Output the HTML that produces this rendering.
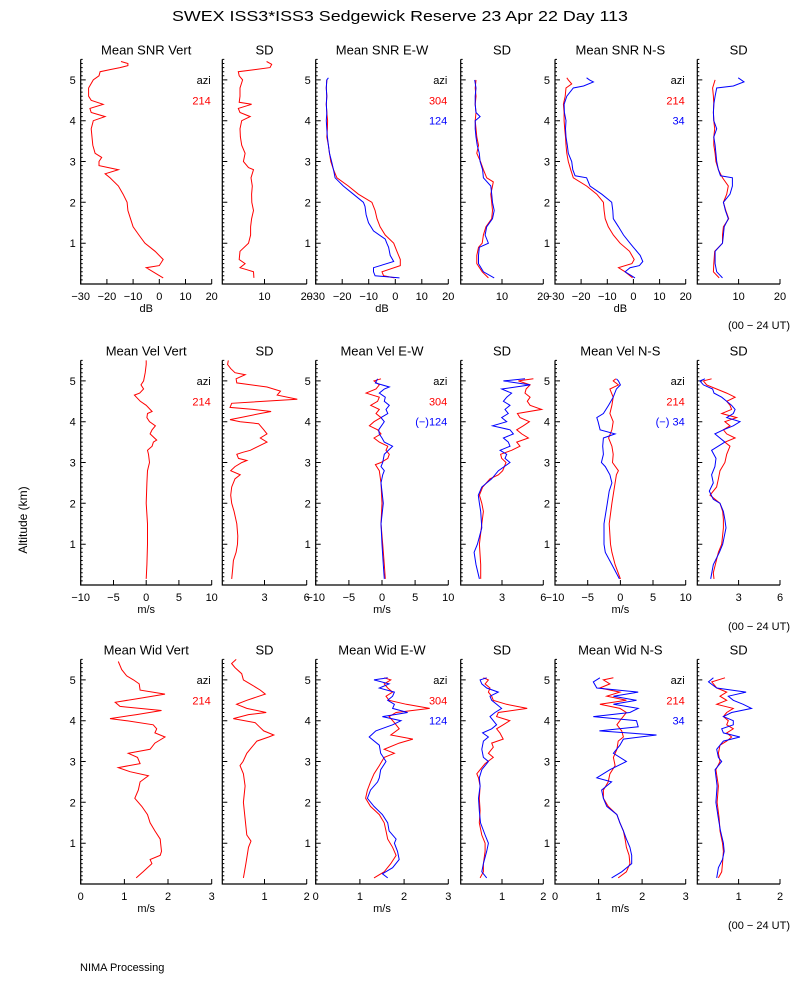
<!DOCTYPE html>
<html><head><meta charset="utf-8">
<style>
html,body{margin:0;padding:0;background:#fff;}
svg{display:block;font-family:"Liberation Sans",sans-serif;}
</style></head>
<body>
<svg id="chart" width="800" height="1000" viewBox="0 0 800 1000" xmlns="http://www.w3.org/2000/svg">
<rect x="0" y="0" width="800" height="1000" fill="#fff"/>
<text x="172" y="21" font-size="15" textLength="456" lengthAdjust="spacingAndGlyphs">SWEX ISS3*ISS3 Sedgewick Reserve  23 Apr 22 Day 113</text>
<text x="0" y="0" font-size="12" text-anchor="middle" transform="translate(27,520) rotate(-90)">Altitude (km)</text>
<text x="80" y="971" font-size="11">NIMA Processing</text>
<g id="plots"></g>
</svg>
<script>
// ---------- Row 1: SNR (dB) ----------
const snrVertAlt=[0.15,0.4,0.45,0.6,0.8,1.0,1.2,1.4,1.6,1.8,2.0,2.2,2.4,2.6,2.7,2.8,2.9,3.0,3.1,3.2,3.4,3.6,3.8,4.0,4.1,4.2,4.3,4.4,4.5,4.6,4.8,5.0,5.1,5.2,5.25,5.3,5.35,5.4,5.45];
const snrVertVal=[1.5,-5,0,1.5,-1.6,-5.5,-7.8,-10,-11,-12,-12.3,-13.8,-15.6,-18.8,-20.7,-15.6,-23,-23,-22,-24.5,-25.4,-25.7,-26,-25.2,-20.7,-26,-26.5,-21.4,-26,-27,-27,-25.2,-23,-22.6,-18.8,-15,-12,-12,-14.6];
const snrVertSdAlt=[0.15,0.3,0.35,0.4,0.5,0.6,0.8,1.0,1.2,1.4,1.6,1.8,2.0,2.2,2.4,2.6,2.8,2.85,3.0,3.2,3.4,3.6,3.8,4.0,4.1,4.2,4.3,4.4,4.45,4.6,4.8,5.0,5.1,5.2,5.25,5.3,5.38,5.45];
const snrVertSdVal=[7.5,7.4,5.8,4.2,5.4,4.0,4.2,6.2,6.7,6.7,6.95,7.4,7.0,6.95,7.1,6.8,7.4,6.2,5.0,5.4,4.6,4.3,4.2,4.6,6.6,4.2,3.8,6.95,4.0,4.2,4.2,4.8,4.0,3.8,7.7,11.3,11.7,10.5];
const snrEwRedAlt=[0.15,0.2,0.3,0.45,0.6,0.8,1.0,1.2,1.4,1.6,1.8,2.0,2.2,2.4,2.6,2.8,3.0,3.2,3.4,3.6,3.8,4.0,4.2,4.4,4.6,4.8,5.0];
const snrEwRedVal=[-0.3,-4.4,-5,1.9,1.9,0.6,-0.6,-3.8,-5.7,-6.9,-7.6,-8.8,-13.9,-17.7,-22,-23.3,-24.3,-24.8,-25.2,-25.8,-25.6,-25.5,-25.8,-26,-25.8,-26,-25.8];
const snrEwBlueAlt=[0.15,0.2,0.3,0.4,0.55,0.7,0.9,1.0,1.1,1.3,1.5,1.7,1.9,2.0,2.2,2.4,2.6,2.8,3.0,3.2,3.4,3.6,3.8,4.0,4.2,4.4,4.6,4.8,5.0,5.05];
const snrEwBlueVal=[1.6,-7.6,-8.2,-8.2,-0.6,-1.9,-2.5,-3.2,-3.8,-8.2,-10.1,-11,-11.4,-12,-15.8,-19.6,-22.7,-23.3,-24,-24.8,-25.2,-25.6,-25.8,-26,-25.8,-26,-25.8,-26,-25.8,-25.2];
const snrEwSdRedAlt=[0.15,0.3,0.5,0.7,0.9,1.0,1.2,1.4,1.6,1.8,2.0,2.2,2.4,2.5,2.6,2.8,3.0,3.2,3.4,3.6,3.8,4.0,4.2,4.4,4.6,4.8,5.0];
const snrEwSdRedVal=[6.7,5.2,3.9,3.9,4.3,5.2,5.5,6.1,7.5,7.7,7.5,7.3,7.7,7.9,6.3,5.5,4.8,3.9,4.3,3.9,3.7,3.5,3.7,3.5,3.7,3.5,3.7];
const snrEwSdBlueAlt=[0.15,0.3,0.5,0.7,0.9,1.0,1.2,1.4,1.6,1.8,2.0,2.2,2.4,2.6,2.8,3.0,3.2,3.4,3.6,3.8,4.0,4.1,4.2,4.4,4.6,4.8,5.0];
const snrEwSdBlueVal=[8.1,5.5,4.3,4.3,4.5,6.7,5.9,6.3,7.7,8.1,7.7,7.5,7.3,5.5,5.3,4.7,4.5,4.0,3.7,3.5,3.5,4.7,3.7,3.5,3.5,3.7,3.4];
const snrNsRedAlt=[0.15,0.3,0.4,0.5,0.6,0.8,1.0,1.2,1.4,1.6,1.8,2.0,2.2,2.4,2.6,2.8,3.0,3.2,3.4,3.6,3.8,4.0,4.2,4.4,4.6,4.8,4.9,5.0,5.05];
const snrNsRedVal=[-0.3,-3.2,-5.7,-0.6,0.3,-1.5,-5.1,-7.7,-9.6,-10.8,-11.2,-11.5,-14,-17.9,-23,-24,-24.9,-25.5,-25.8,-26,-26.3,-26.5,-26.5,-26.8,-26.1,-25.8,-23.6,-24.9,-25.5];
const snrNsBlueAlt=[0.15,0.3,0.4,0.45,0.55,0.7,0.9,1.0,1.2,1.4,1.6,1.8,2.0,2.2,2.4,2.6,2.65,2.8,3.0,3.2,3.4,3.6,3.8,4.0,4.2,4.4,4.6,4.8,4.85,4.95,5.0,5.05];
const snrNsBlueVal=[0.6,-3.2,-1.3,2.3,3.6,2.6,0,-1.3,-3.8,-5.7,-7.7,-7.9,-8.3,-12.1,-16.6,-17.9,-22.3,-23.2,-23.6,-24.9,-25.3,-25.8,-26,-25.8,-26.4,-26.5,-25.5,-23,-19.1,-15.3,-16.8,-17.9];
const snrNsSdRedAlt=[0.15,0.3,0.5,0.8,1.0,1.2,1.4,1.6,1.8,2.0,2.2,2.4,2.6,2.8,3.0,3.2,3.4,3.6,3.8,4.0,4.2,4.4,4.6,4.8,5.0];
const snrNsSdRedVal=[5.3,3.9,4.0,4.2,6.1,6.1,6.3,7.6,6.9,6.3,7.1,7.5,6.1,5.1,4.5,4.3,4.0,4.0,4.2,4.0,3.9,4.0,3.9,3.7,4.3];
const snrNsSdBlueAlt=[0.15,0.3,0.5,0.8,1.0,1.2,1.4,1.6,1.8,2.0,2.2,2.4,2.6,2.65,2.8,3.0,3.2,3.4,3.6,3.8,4.0,4.2,4.4,4.6,4.8,4.85,4.95,5.05];
const snrNsSdBlueVal=[6.1,4.7,4.3,4.3,6.1,6.3,6.5,7.5,6.8,6.3,7.9,8.5,8.5,5.6,5.1,4.7,4.5,4.3,4.0,4.7,4.0,3.9,4.0,4.3,4.7,8.7,11.3,9.9];
// ---------- Row 2: Velocity (m/s) ----------
const velVertAlt=[0.15,0.5,1.0,1.5,2.0,2.5,2.8,3.0,3.2,3.3,3.4,3.5,3.55,3.7,3.8,3.9,4.0,4.1,4.2,4.25,4.4,4.5,4.6,4.65,4.7,4.8,4.9,5.0,5.2,5.4,5.5];
const velVertVal=[0,0.1,0.2,0.2,0,0.1,0.2,0.5,0.35,0.2,0.9,1.1,1.6,0.6,0.9,1.4,0.5,0.1,0.2,0.9,0,-0.9,-1.5,-1.8,-1.0,-0.4,-0.8,-0.4,-0.15,0,0];
const velVertSdAlt=[0.15,0.4,0.6,0.8,1.0,1.2,1.5,1.8,2.0,2.2,2.4,2.6,2.7,2.8,2.9,3.0,3.05,3.1,3.2,3.25,3.3,3.4,3.5,3.6,3.7,3.8,3.95,4.0,4.05,4.1,4.2,4.25,4.3,4.35,4.45,4.55,4.65,4.75,4.85,4.95,5.05,5.15,5.2,5.3,5.4,5.5];
const velVertSdVal=[0.67,0.74,0.79,0.98,1.08,1.1,1.03,0.84,0.67,0.6,0.67,0.9,1.27,0.6,0.9,1.39,1.75,1.15,1.03,1.46,1.99,2.58,3.18,2.7,3.18,2.95,2.58,1.27,0.55,1.27,2.7,3.47,2.2,0.55,0.67,5.33,3.9,4.14,3.18,1.03,0.98,1.63,0.9,0.6,0.38,0.43];
const velEwRedAlt=[0.15,0.5,1.0,1.5,2.0,2.5,2.8,2.95,3.0,3.1,3.2,3.3,3.4,3.5,3.6,3.7,3.8,3.9,4.0,4.1,4.2,4.3,4.4,4.5,4.6,4.7,4.8,4.9,5.0,5.05];
const velEwRedVal=[0.5,0.35,0.1,-0.15,0,-0.15,-0.4,-1.0,-0.15,0.87,1.1,0.6,0.87,-0.4,-1.2,-0.15,-0.66,-1.9,-1.2,-0.15,-0.9,-0.4,-1.7,-0.66,-0.4,-2.4,-0.9,-0.4,-1.2,-0.15];
const velEwBlueAlt=[0.15,0.5,1.0,1.5,2.0,2.5,2.7,2.8,2.9,3.0,3.2,3.4,3.5,3.6,3.7,3.8,4.0,4.1,4.2,4.3,4.4,4.5,4.6,4.7,4.8,4.85,4.95,5.05];
const velEwBlueVal=[0.35,0.2,0,-0.15,0.2,-0.15,0.1,0.35,-0.15,0.1,0.35,1.6,0.35,0,-0.4,-0.5,0.35,-0.15,0.87,0.6,1.1,0.35,0.5,-0.4,0.35,1.1,-1.0,-0.66];
const velEwSdRedAlt=[0.15,0.5,1.0,1.5,1.8,2.0,2.2,2.4,2.6,2.7,2.8,3.0,3.1,3.2,3.3,3.4,3.5,3.6,3.7,3.8,3.9,4.0,4.1,4.2,4.3,4.4,4.5,4.6,4.7,4.8,4.9,5.0,5.05];
const velEwSdRedVal=[1.45,1.45,1.36,1.53,1.65,1.53,1.36,1.6,2.13,2.74,3.05,3.29,2.98,2.9,3.7,4.31,4.07,4.92,4.43,4.07,4.55,4.99,4.31,4.12,5.88,5.04,4.84,5.04,4.67,4.75,5.04,4.19,5.28];
const velEwSdBlueAlt=[0.15,0.5,0.8,1.0,1.4,1.8,2.0,2.2,2.4,2.6,2.8,3.0,3.1,3.2,3.3,3.4,3.5,3.6,3.7,3.8,3.9,4.0,4.1,4.2,4.3,4.4,4.5,4.6,4.7,4.8,4.9,5.0,5.05];
const velEwSdBlueVal=[1.36,1.11,0.97,1.21,1.53,1.45,1.36,1.28,1.53,2.25,2.74,3.58,3.22,3.34,2.86,3.58,3.46,3.1,3.83,3.58,2.32,3.34,2.98,3.46,3.22,3.58,3.1,3.34,3.7,2.98,5.04,3.1,4.67];
const velNsRedAlt=[0.15,0.5,0.8,1.0,1.5,2.0,2.5,2.7,2.8,3.0,3.2,3.4,3.6,3.8,4.0,4.2,4.4,4.6,4.8,4.9,5.0,5.05];
const velNsRedVal=[0,-0.8,-1.3,-1.5,-1.7,-1.3,-0.8,-0.6,-0.3,-1.2,-1.1,-1.3,-1.8,-1.3,-1.1,-1.6,-1.3,-1.1,-1.6,-0.3,-1.1,-0.7];
const velNsBlueAlt=[0.15,0.5,0.8,1.0,1.5,2.0,2.3,2.5,2.7,2.9,3.0,3.2,3.4,3.6,3.7,3.8,4.0,4.1,4.2,4.4,4.6,4.8,4.9,5.0,5.05];
const velNsBlueVal=[-0.15,-1.3,-2.3,-2.5,-2.5,-2.0,-1.7,-1.3,-1.6,-2.3,-2.9,-2.6,-2.7,-2.6,-0.8,-3.1,-3.4,-3.6,-2.6,-1.8,-1.1,-0.6,0,-0.3,-0.6];
const velNsSdRedAlt=[0.15,0.3,0.8,1.0,1.4,1.6,1.8,2.0,2.2,2.4,2.6,2.8,3.0,3.2,3.4,3.5,3.6,3.7,3.8,3.9,4.0,4.1,4.2,4.3,4.4,4.5,4.6,4.7,4.8,4.9,5.0,5.05];
const velNsSdRedVal=[1.21,1.16,1.53,1.77,1.89,1.89,1.84,1.65,0.92,1.4,1.53,1.65,2.0,2.13,2.37,2.0,2.74,2.13,1.89,2.37,2.0,2.86,1.77,2.49,2.37,2.13,2.74,2.13,1.4,0.68,0.44,1.04];
const velNsSdBlueAlt=[0.15,0.5,0.8,1.0,1.4,1.6,1.8,2.0,2.1,2.3,2.5,2.7,2.9,3.1,3.3,3.5,3.7,3.8,3.9,4.0,4.1,4.2,4.3,4.4,4.6,4.7,4.8,4.9,5.0,5.05];
const velNsSdBlueVal=[0.97,1.16,1.6,1.84,2.08,2.0,1.89,1.65,1.16,0.87,1.16,1.04,1.28,1.36,1.04,2.0,1.28,1.89,2.61,3.1,2.13,2.61,2.74,2.49,1.77,1.21,1.11,0.44,0.19,0.56];
// ---------- Row 3: Spectral width (m/s) ----------
const widVertAlt=[0.15,0.3,0.5,0.6,0.7,0.8,1.0,1.1,1.3,1.5,1.7,1.9,2.1,2.3,2.5,2.65,2.75,2.85,2.95,3.1,3.2,3.3,3.45,3.6,3.7,3.8,3.9,4.0,4.05,4.15,4.25,4.35,4.45,4.55,4.65,4.75,4.9,5.0,5.1,5.25,5.35,5.45];
const widVertVal=[1.27,1.43,1.63,1.59,1.82,1.85,1.83,1.82,1.7,1.59,1.53,1.4,1.24,1.32,1.36,1.55,1.13,0.86,1.36,1.3,1.09,1.59,1.7,1.93,1.7,1.74,1.66,1.05,0.67,1.28,1.85,0.9,0.79,1.36,1.93,1.36,1.34,1.21,1.05,0.94,0.9,0.86];
const widVertSdAlt=[0.15,0.5,0.9,1.05,1.2,1.6,2.0,2.4,2.7,2.9,3.0,3.2,3.35,3.5,3.6,3.65,3.75,3.85,3.95,4.05,4.15,4.2,4.3,4.4,4.5,4.65,4.75,4.9,5.0,5.15,5.3,5.4,5.5];
const widVertSdVal=[0.5,0.56,0.62,0.68,0.58,0.54,0.5,0.54,0.5,0.42,0.49,0.58,0.7,0.82,1.1,1.22,0.98,0.88,0.78,0.26,0.62,1.04,0.58,0.34,0.58,1.02,0.9,0.66,0.5,0.46,0.3,0.22,0.33];
const widEwRedAlt=[0.15,0.3,0.5,0.7,0.9,1.1,1.3,1.5,1.7,1.9,2.1,2.3,2.5,2.7,2.9,3.1,3.2,3.3,3.45,3.55,3.65,3.8,3.95,4.1,4.2,4.3,4.4,4.5,4.6,4.7,4.8,4.9,5.0,5.05];
const widEwRedVal=[1.32,1.55,1.7,1.82,1.74,1.63,1.59,1.55,1.44,1.24,1.13,1.17,1.24,1.32,1.44,1.55,1.78,1.55,1.89,2.2,1.7,1.89,1.78,1.66,1.82,2.58,2.05,1.66,1.59,1.74,1.63,1.55,1.7,1.55];
const widEwBlueAlt=[0.15,0.25,0.4,0.6,0.8,1.0,1.1,1.3,1.5,1.7,1.9,2.1,2.3,2.5,2.6,2.8,3.0,3.2,3.4,3.6,3.75,3.9,4.0,4.1,4.2,4.3,4.4,4.5,4.6,4.7,4.8,4.9,5.0,5.05];
const widEwBlueVal=[1.63,1.51,1.74,1.89,1.85,1.78,1.82,1.66,1.63,1.51,1.32,1.17,1.24,1.4,1.44,1.47,1.59,1.47,1.44,1.21,1.36,1.74,1.93,1.51,2.08,1.74,1.78,1.63,1.74,1.78,1.44,1.66,1.32,1.63];
const widEwSdRedAlt=[0.15,0.3,0.5,0.8,1.0,1.2,1.5,1.8,2.1,2.4,2.6,2.7,2.8,2.95,3.1,3.2,3.35,3.45,3.55,3.7,3.8,3.9,4.0,4.1,4.2,4.3,4.4,4.5,4.6,4.7,4.8,4.9,5.0,5.05];
const widEwSdRedVal=[0.47,0.55,0.55,0.59,0.59,0.51,0.45,0.47,0.45,0.47,0.43,0.39,0.47,0.59,0.79,0.67,0.79,0.75,1.03,0.95,0.87,1.03,1.19,0.87,0.91,1.61,1.11,0.79,0.75,0.67,0.71,0.59,0.67,0.55];
const widEwSdBlueAlt=[0.15,0.3,0.5,0.8,1.0,1.2,1.5,1.8,2.1,2.4,2.6,2.8,3.0,3.1,3.3,3.5,3.6,3.7,3.8,3.9,4.0,4.1,4.2,4.3,4.4,4.5,4.6,4.7,4.8,4.9,5.0,5.05];
const widEwSdBlueVal=[0.63,0.51,0.55,0.63,0.67,0.59,0.48,0.45,0.43,0.47,0.45,0.51,0.67,0.55,0.51,0.55,0.67,0.53,0.75,0.87,0.79,0.71,0.83,0.99,0.87,0.75,0.71,0.91,0.63,0.51,0.47,0.63];
const widNsRedAlt=[0.15,0.3,0.5,0.7,0.9,1.1,1.3,1.5,1.7,1.9,2.1,2.3,2.5,2.7,2.9,3.1,3.3,3.5,3.6,3.75,3.9,4.0,4.2,4.3,4.4,4.5,4.6,4.7,4.8,4.9,5.0,5.05];
const widNsRedVal=[1.45,1.64,1.72,1.7,1.64,1.61,1.57,1.49,1.42,1.22,1.11,1.11,1.22,1.26,1.38,1.34,1.42,1.45,1.57,1.53,1.42,1.49,1.64,1.49,1.03,1.64,1.19,1.49,1.03,1.26,1.11,1.34];
const widNsBlueAlt=[0.15,0.3,0.5,0.7,0.9,1.1,1.3,1.5,1.7,1.9,2.1,2.3,2.5,2.6,2.8,3.0,3.2,3.4,3.55,3.65,3.75,3.85,4.0,4.1,4.2,4.3,4.4,4.5,4.6,4.7,4.8,4.95,5.05];
const widNsBlueVal=[1.3,1.53,1.76,1.76,1.72,1.64,1.57,1.49,1.42,1.19,1.11,1.07,1.3,0.96,1.26,1.64,1.34,1.49,1.57,2.33,1.02,1.91,1.87,0.88,1.72,1.91,1.34,1.87,1.34,1.91,0.96,0.88,1.03];
const widNsSdRedAlt=[0.15,0.3,0.5,0.8,1.0,1.3,1.6,2.0,2.4,2.8,3.0,3.2,3.4,3.5,3.6,3.7,3.8,3.9,4.0,4.1,4.2,4.3,4.4,4.5,4.6,4.7,4.8,4.95,5.05];
const widNsSdRedVal=[0.51,0.59,0.61,0.63,0.61,0.55,0.53,0.48,0.51,0.45,0.55,0.51,0.55,0.71,0.83,0.71,0.87,0.71,0.75,0.63,0.71,0.87,0.47,0.71,0.55,0.71,0.47,0.35,0.67];
const widNsSdBlueAlt=[0.15,0.4,0.6,0.8,1.0,1.3,1.6,2.0,2.4,2.8,3.0,3.1,3.3,3.5,3.6,3.7,3.8,3.9,4.0,4.1,4.2,4.3,4.4,4.5,4.6,4.7,4.8,4.95,5.05];
const widNsSdBlueVal=[0.47,0.51,0.61,0.65,0.63,0.56,0.51,0.45,0.48,0.43,0.59,0.51,0.47,0.63,1.03,0.63,0.59,0.87,0.87,0.63,0.83,1.31,1.11,0.87,0.75,1.18,0.47,0.27,0.39];

// ---------- Panel definitions ----------
const rowTitles=[["Mean SNR Vert","SD","Mean SNR E-W","SD","Mean SNR N-S","SD"],
 ["Mean Vel Vert","SD","Mean Vel E-W","SD","Mean Vel N-S","SD"],
 ["Mean Wid Vert","SD","Mean Wid E-W","SD","Mean Wid N-S","SD"]];
const rowUnits=["dB","m/s","m/s"];
const meanTicks=[[-30,-20,-10,0,10,20],[-10,-5,0,5,10],[0,1,2,3]];
const sdTicks=[[10,20],[3,6],[1,2]];
const altTicks=[1,2,3,4,5];
const aziLabels=[[["214"]],[["304","124"],["214","34"]]];
const velAziLabels=[["214"],["304","(\u2212)124"],["214","(\u2212) 34"]];

const NS="http://www.w3.org/2000/svg";
const root=document.getElementById('plots');
const panelX=[[80.7,211.7],[222.3,306.7],[315.7,448.3],[460.7,543.3],[555,685.7],[697.3,780]];
const rowOff=[0,301,600];
const RED="#ff0000", BLUE="#0000ff";

function mk(tag,attrs,parent){const e=document.createElementNS(NS,tag);for(const k in attrs)e.setAttribute(k,attrs[k]);(parent||root).appendChild(e);return e;}
function yScale(row,a){return 284+rowOff[row]-40.83*a;}

function panel(row,col,xmin,xmax,ticks,series,azi,showY){
  const g=mk('g',{});
  
  
  const [x0,x1]=panelX[col];
  const xs=v=>x0+(v-xmin)/(xmax-xmin)*(x1-x0);
  const yb=yScale(row,0), yt=yScale(row,5.5);
  const ax=mk('path',{d:`M${x0} ${yt}V${yb}H${x1}`,stroke:'#000','stroke-width':1.2,fill:'none'},g);
  
  
  let d='';
  for(let i=1;i<=55;i++){const y=yScale(row,i/10);const L=(i%10===0)?5:2;d+=`M${x0} ${y.toFixed(1)}h${L}`;}
  ticks.forEach(t=>{const x=xs(t);d+=`M${x.toFixed(1)} ${yb}v-5`;});
  const tk=mk('path',{d:d,stroke:'#000','stroke-width':1,fill:'none'},g);
  
  
  ticks.forEach(t=>{
    const tl=mk('text',{x:xs(t),y:yb+16,'font-size':11,'text-anchor':'middle'},g);
    
    
    tl.textContent=String(t).replace('-','\u2212');
  });
  if(showY){altTicks.forEach(a=>{
    const tl=mk('text',{x:x0-5,y:yScale(row,a)+4,'font-size':11,'text-anchor':'end'},g);
    
    
    tl.textContent=a;
  });}
  const title=rowTitles[row][col];
  const tt=mk('text',{x:(x0+x1)/2,y:yScale(row,0)-229.5,'font-size':13,'text-anchor':'middle'},g);
  
  
  tt.textContent=title;
  if(col%2===0){
    const u=mk('text',{x:(x0+x1)/2,y:yb+28,'font-size':11,'text-anchor':'middle'},g);
    
    
    u.textContent=rowUnits[row];
  }
  series.forEach(s=>{
    const pts=s.alt.map((a,i)=>xs(s.val[i]).toFixed(1)+','+yScale(row,a).toFixed(1)).join(' ');
    const pl=mk('polyline',{points:pts,fill:'none',stroke:s.c,'stroke-width':1},g);
    
    
  });
  if(azi){
    const a=mk('text',{x:x1-1,y:yScale(row,5.0)+4,'font-size':11,'text-anchor':'end'},g);
    
    
    a.textContent='azi';
    azi.forEach((lab,i)=>{
      const t=mk('text',{x:x1-1,y:yScale(row,4.5-0.5*i)+4,'font-size':11,'text-anchor':'end',fill:i===0?RED:BLUE},g);
      
      
      t.textContent=lab;
    });
  }
}
const S=(alt,val,c,name)=>({alt,val,c,name});
// Row 1
panel(0,0,-30,20,meanTicks[0],[S(snrVertAlt,snrVertVal,RED,'snr-vert-line')],["214"],true);
panel(0,1,0,20,sdTicks[0],[S(snrVertSdAlt,snrVertSdVal,RED,'snr-vert-sd-line')],null,false);
panel(0,2,-30,20,meanTicks[0],[S(snrEwRedAlt,snrEwRedVal,RED,'snr-ew-304-line'),S(snrEwBlueAlt,snrEwBlueVal,BLUE,'snr-ew-124-line')],["304","124"],true);
panel(0,3,0,20,sdTicks[0],[S(snrEwSdRedAlt,snrEwSdRedVal,RED,'snr-ew-sd-304-line'),S(snrEwSdBlueAlt,snrEwSdBlueVal,BLUE,'snr-ew-sd-124-line')],null,false);
panel(0,4,-30,20,meanTicks[0],[S(snrNsRedAlt,snrNsRedVal,RED,'snr-ns-214-line'),S(snrNsBlueAlt,snrNsBlueVal,BLUE,'snr-ns-34-line')],["214","34"],true);
panel(0,5,0,20,sdTicks[0],[S(snrNsSdRedAlt,snrNsSdRedVal,RED,'snr-ns-sd-214-line'),S(snrNsSdBlueAlt,snrNsSdBlueVal,BLUE,'snr-ns-sd-34-line')],null,false);
// Row 2
panel(1,0,-10,10,meanTicks[1],[S(velVertAlt,velVertVal,RED,'vel-vert-line')],velAziLabels[0],true);
panel(1,1,0,6,sdTicks[1],[S(velVertSdAlt,velVertSdVal,RED,'vel-vert-sd-line')],null,false);
panel(1,2,-10,10,meanTicks[1],[S(velEwRedAlt,velEwRedVal,RED,'vel-ew-304-line'),S(velEwBlueAlt,velEwBlueVal,BLUE,'vel-ew-124-line')],velAziLabels[1],true);
panel(1,3,0,6,sdTicks[1],[S(velEwSdRedAlt,velEwSdRedVal,RED,'vel-ew-sd-304-line'),S(velEwSdBlueAlt,velEwSdBlueVal,BLUE,'vel-ew-sd-124-line')],null,false);
panel(1,4,-10,10,meanTicks[1],[S(velNsRedAlt,velNsRedVal,RED,'vel-ns-214-line'),S(velNsBlueAlt,velNsBlueVal,BLUE,'vel-ns-34-line')],velAziLabels[2],true);
panel(1,5,0,6,sdTicks[1],[S(velNsSdRedAlt,velNsSdRedVal,RED,'vel-ns-sd-214-line'),S(velNsSdBlueAlt,velNsSdBlueVal,BLUE,'vel-ns-sd-34-line')],null,false);
// Row 3
panel(2,0,0,3,meanTicks[2],[S(widVertAlt,widVertVal,RED,'wid-vert-line')],["214"],true);
panel(2,1,0,2,sdTicks[2],[S(widVertSdAlt,widVertSdVal,RED,'wid-vert-sd-line')],null,false);
panel(2,2,0,3,meanTicks[2],[S(widEwRedAlt,widEwRedVal,RED,'wid-ew-304-line'),S(widEwBlueAlt,widEwBlueVal,BLUE,'wid-ew-124-line')],["304","124"],true);
panel(2,3,0,2,sdTicks[2],[S(widEwSdRedAlt,widEwSdRedVal,RED,'wid-ew-sd-304-line'),S(widEwSdBlueAlt,widEwSdBlueVal,BLUE,'wid-ew-sd-124-line')],null,false);
panel(2,4,0,3,meanTicks[2],[S(widNsRedAlt,widNsRedVal,RED,'wid-ns-214-line'),S(widNsBlueAlt,widNsBlueVal,BLUE,'wid-ns-34-line')],["214","34"],true);
panel(2,5,0,2,sdTicks[2],[S(widNsSdRedAlt,widNsSdRedVal,RED,'wid-ns-sd-214-line'),S(widNsSdBlueAlt,widNsSdBlueVal,BLUE,'wid-ns-sd-34-line')],null,false);
// UT notes
[0,1,2].forEach(r=>{
  const t=mk('text',{x:790,y:329+rowOff[r],'font-size':11,'text-anchor':'end'});
  
  
  t.textContent='(00 \u2212 24 UT)';
});
</script>
</body></html>
